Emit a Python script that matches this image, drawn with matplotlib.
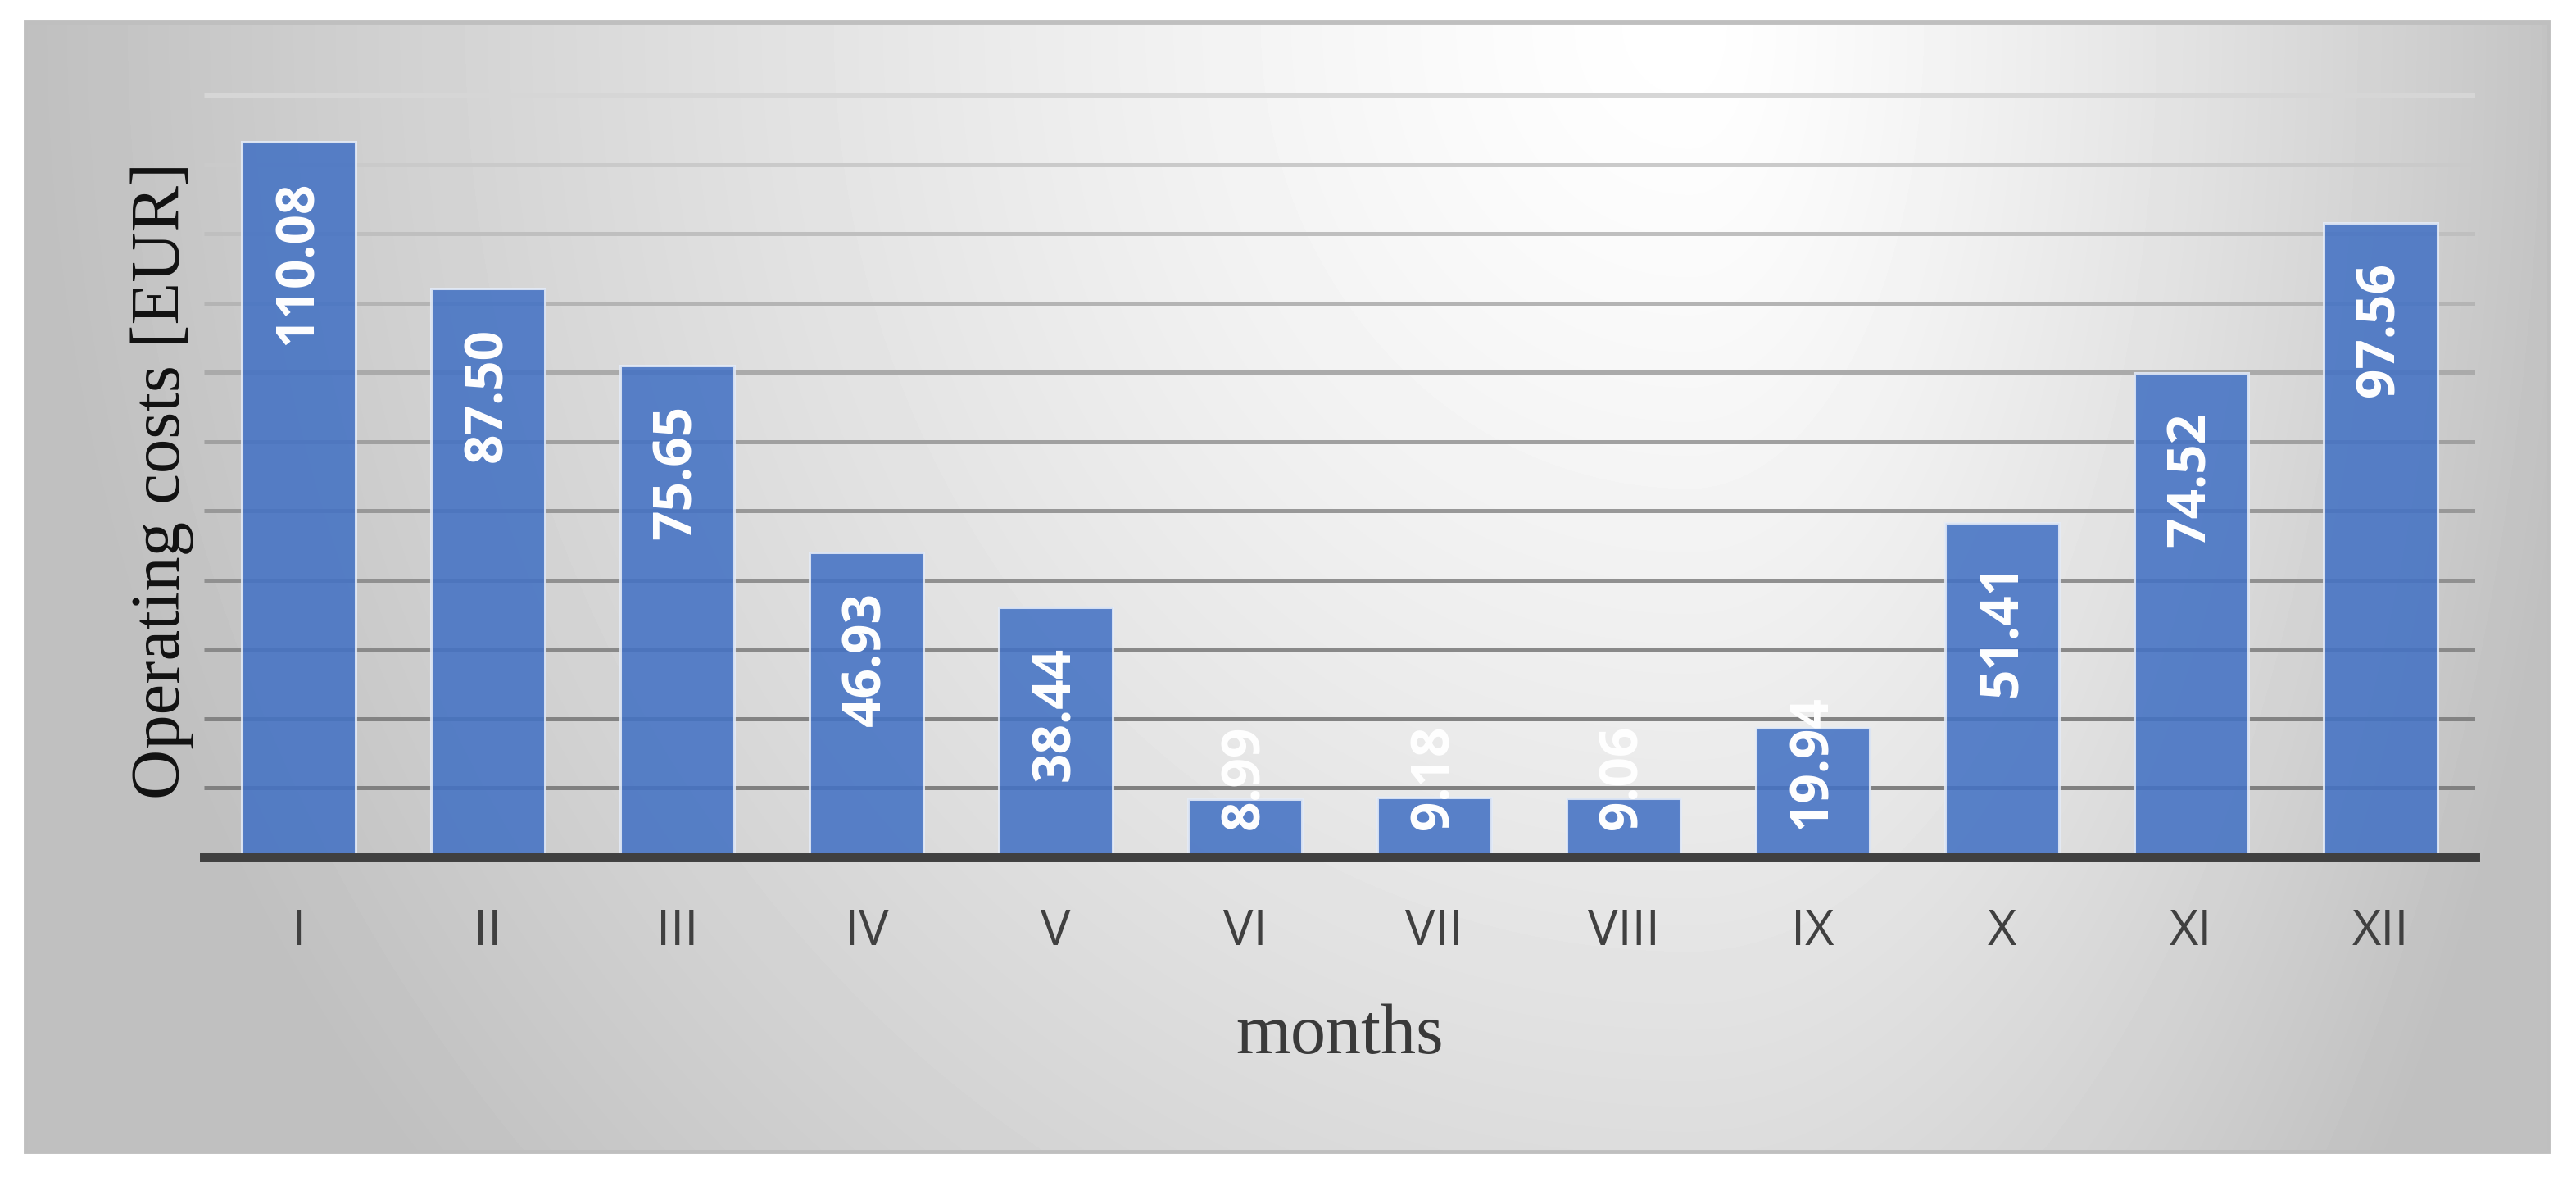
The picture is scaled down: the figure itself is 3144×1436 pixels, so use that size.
import numpy as np
import matplotlib
matplotlib.use("Agg")
import matplotlib.pyplot as plt
from matplotlib.patches import Rectangle

# ── data ──────────────────────────────────────────────────────────────────────
months = ["I", "II", "III", "IV", "V", "VI", "VII", "VIII", "IX", "X", "XI", "XII"]
costs = [110.08, 87.50, 75.65, 46.93, 38.44, 8.99, 9.18, 9.06, 19.94, 51.41, 74.52, 97.56]

# ── layout constants (pixels of a 3144x1436 canvas) ──────────────────────────
W, H = 3144, 1436
DPI = 100
GRID_STEP = 10.66          # spacing of the horizontal gridlines (unlabelled axis)
N_GRID = 11
YMAX = 120

fig = plt.figure(figsize=(W / DPI, H / DPI), dpi=DPI, facecolor="white")

# ── gradient chart area background ───────────────────────────────────────────
bg = fig.add_axes([0, 0, 1, 1])
bg.axis("off")
fx0, fx1, fy0, fy1 = 31, 3110, 27, 1405
u = np.linspace(0, 1, 800)
v = np.linspace(0, 1, 400)
U, V = np.meshgrid(u, v)
cx = 0.66
dx = np.where(U < cx, (U - cx) / cx, (U - cx) / 0.36)
r = np.sqrt(dx ** 2 + (V / 1.6) ** 2)
shade = 1 - 0.25 * np.clip(r, 0, 1) ** 1.3
bg.imshow(shade, cmap="gray", vmin=0, vmax=1, extent=(fx0, fx1, fy1, fy0),
          aspect="auto", interpolation="bilinear")
bg.add_patch(Rectangle((fx0, fy0), fx1 - fx0, fy1 - fy0, fill=False,
                       edgecolor="#bfbfbf", linewidth=3.5))
bg.set_xlim(0, W)
bg.set_ylim(H, 0)

# ── main axes ────────────────────────────────────────────────────────────────
ax_left, ax_right, ax_base = 249, 3021, 1046
ax_h = YMAX * 7.93
ax = fig.add_axes([ax_left / W, (H - ax_base) / H, (ax_right - ax_left) / W, ax_h / H])
ax.set_facecolor("none")
ax.set_xlim(-0.5, len(months) - 0.5)
ax.set_ylim(0, YMAX)
for s in ax.spines.values():
    s.set_visible(False)

# gridlines, darker towards the bottom
grid_y = GRID_STEP * np.arange(1, N_GRID + 1)
t = np.linspace(0, 1, N_GRID)
grid_cols = [str(0.50 + 0.34 * tt ** 1.4) for tt in t]
ax.hlines(grid_y, -0.5, len(months) - 0.5, colors=grid_cols, linewidth=3.6, zorder=1)

x = np.arange(len(months))
ax.bar(x, costs, width=0.6, color="#4472C4", alpha=0.88,
       edgecolor="#e4ebf7", linewidth=2.2, zorder=2)
ax.axhline(0, color="#404040", linewidth=7.9, zorder=3, clip_on=False)

ax.set_xticks(x)
ax.set_xticklabels(months, family="Open Sans", fontsize=44, color="#404040")
ax.tick_params(axis="x", length=0, pad=44)
ax.set_yticks([])

# value labels, rotated, just inside the bar end (pushed up if the bar is short)
renderer = fig.canvas.get_renderer()
px_per_unit = ax.transData.transform((0, 1))[1] - ax.transData.transform((0, 0))[1]
top_pad = 48 / px_per_unit
bottom_pad = 34 / px_per_unit
for xi, val in zip(x, costs):
    txt = ax.text(xi, val - top_pad, f"{val:.2f}", rotation=90, ha="center", va="top",
                  color="white", fontsize=46, fontweight="bold", family="Open Sans",
                  zorder=4)
    length = txt.get_window_extent(renderer=renderer).height / px_per_unit
    if val - top_pad - length < bottom_pad:
        txt.set_y(bottom_pad)
        txt.set_va("bottom")

# axis titles
fig.text(1635 / W, 1 - 1285 / H, "months", ha="center", va="baseline",
         family="Liberation Serif", fontsize=62, color="#3a3a3a")
fig.text(198 / W, 1 - 586 / H, "Operating costs [EUR]", ha="center", va="center",
         rotation=90, family="Liberation Serif", fontsize=61, color="#111111")

fig.savefig("out.png", dpi=DPI, facecolor="white")
